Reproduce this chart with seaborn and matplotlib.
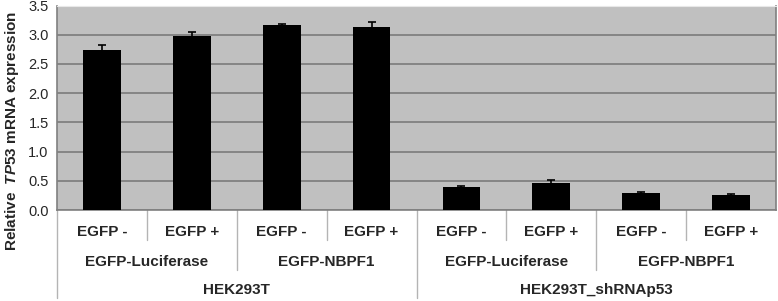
import numpy as np
import pandas as pd
import seaborn as sns
import matplotlib.pyplot as plt

# data
conditions = ["EGFP -", "EGFP +", "EGFP -", "EGFP +", "EGFP -", "EGFP +", "EGFP -", "EGFP +"]
constructs = ["EGFP-Luciferase", "EGFP-NBPF1", "EGFP-Luciferase", "EGFP-NBPF1"]
cell_lines = ["HEK293T", "HEK293T_shRNAp53"]
expression = [2.73, 2.97, 3.16, 3.14, 0.39, 0.47, 0.29, 0.25]
errors = [0.10, 0.07, 0.03, 0.08, 0.02, 0.05, 0.02, 0.02]

sns.set_style("white")
plt.rcParams['font.family'] = ['Liberation Sans', 'DejaVu Sans']
plt.rcParams['mathtext.fontset'] = 'custom'
plt.rcParams['mathtext.it'] = 'Liberation Sans:italic:bold'
plt.rcParams['mathtext.rm'] = 'Liberation Sans:bold'

df = pd.DataFrame({"bar": [f"b{i}" for i in range(len(expression))],
                   "value": expression, "err": errors})

fig = plt.figure(figsize=(7.78, 3.01), dpi=100)
ax = fig.add_axes([57 / 778, 1 - 210 / 301, 719 / 778, 204.5 / 301])
ax.set_facecolor("#c0c0c0")

sns.barplot(data=df, x="bar", y="value", color="black", width=0.42,
            saturation=1, edgecolor="black", linewidth=0, ax=ax, zorder=3)

# upward-only error bars, Excel style
xs = np.arange(len(expression))
tops = np.array(expression) + np.array(errors)
ax.vlines(xs, expression, tops, color="black", linewidth=1.2, zorder=4)
ax.hlines(tops, xs - 0.045, xs + 0.045, color="black", linewidth=1.2, zorder=4)

ax.set_ylim(0, 3.5)
ax.set_xlim(-0.5, len(expression) - 0.5)
ax.set_yticks(np.arange(0, 3.51, 0.5))
ax.set_yticklabels([f"{v:.1f}" for v in np.arange(0, 3.51, 0.5)], fontsize=10.5)
ax.tick_params(axis="y", length=3, width=1, color="#808080", pad=3)
ax.set_xticks([])
ax.set_xlabel("")
ax.set_ylabel("")
ax.yaxis.grid(True, color="#808080", linewidth=1.3, zorder=1)
ax.set_axisbelow(True)
for side in ["left", "bottom", "right"]:
    ax.spines[side].set_color("#808080")
    ax.spines[side].set_linewidth(1.2)
ax.spines["top"].set_color("#e8e8e8")

# multi-level category axis
tr = ax.get_xaxis_transform()
px = 1 / 204.5  # one pixel in axes fraction
for i, lab in enumerate(conditions):
    ax.text(i, -22 * px, lab, transform=tr, ha="center", va="center",
            fontsize=11, fontweight="bold")
for j, lab in enumerate(constructs):
    ax.text(2 * j + 0.5, -52 * px, lab, transform=tr, ha="center", va="center",
            fontsize=11, fontweight="bold")
for k, lab in enumerate(cell_lines):
    ax.text(4 * k + 1.5, -80 * px, lab, transform=tr, ha="center", va="center",
            fontsize=11, fontweight="bold")

for b in range(len(expression)):
    edge = b - 0.5
    if b % 4 == 0:
        depth = 88
    elif b % 2 == 0:
        depth = 60
    else:
        depth = 30
    ax.plot([edge, edge], [0, -depth * px], transform=tr, color="#b4b4b4",
            linewidth=1, clip_on=False)

fig.text(12 / 778, 1 - 131 / 301, r"Relative  $\mathit{TP53}$ mRNA expression",
         rotation=90, ha="center", va="center", fontsize=11, fontweight="bold")

fig.savefig("out.png", dpi=100)
